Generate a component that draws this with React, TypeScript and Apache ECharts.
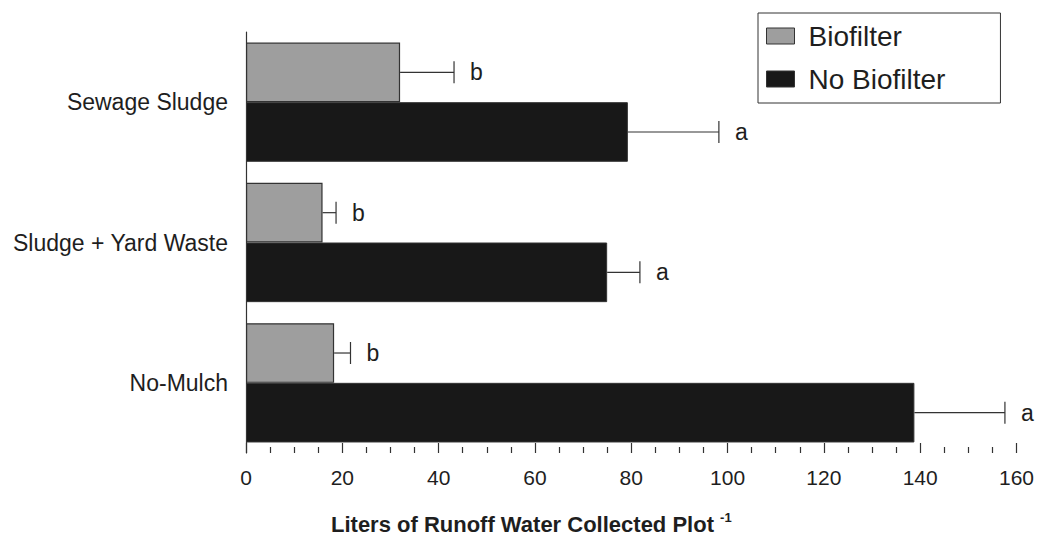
import React, { useEffect, useRef } from "react";
import * as echarts from "echarts";

const categories = ["Sewage Sludge", "Sludge + Yard Waste", "No-Mulch"];
const seriesNames = ["Biofilter", "No Biofilter"];
const biofilterValues = [32.0, 15.9, 18.3];
const biofilterErrors = [11.2, 2.8, 3.4];
const biofilterLetters = ["b", "b", "b"];
const noBiofilterValues = [79.3, 75.0, 138.8];
const noBiofilterErrors = [18.9, 6.8, 18.8];
const noBiofilterLetters = ["a", "a", "a"];
const xTicks = { min: 0, max: 160, interval: 20 };
const xAxisTitle = "Liters of Runoff Water Collected Plot ";
const xAxisTitleSup = "-1";

const FONT = "'Liberation Sans', Arial, Helvetica, sans-serif";
const TEXT = "#1e1e1e";
const CAT_GAP = 0.15;

export default function App() {
  const ref = useRef<HTMLDivElement>(null);
  useEffect(() => {
    if (!ref.current) return;
    const chart = echarts.init(ref.current, null, { renderer: "svg" });

    const errData: any[] = [];
    categories.forEach((_, i) => {
      errData.push([i, biofilterValues[i], biofilterValues[i] + biofilterErrors[i], 0, biofilterLetters[i]]);
      errData.push([i, noBiofilterValues[i], noBiofilterValues[i] + noBiofilterErrors[i], 1, noBiofilterLetters[i]]);
    });

    const renderErr = (params: any, api: any) => {
      const idx = api.value(0);
      const group = api.value(3);
      const letter = errData[params.dataIndex][4];
      const start = api.coord([api.value(1), idx]);
      const end = api.coord([api.value(2), idx]);
      const band = api.size([0, 1])[1];
      const barW = (band * (1 - CAT_GAP)) / 2;
      const y = start[1] + (group === 0 ? -barW / 2 : barW / 2);
      const cap = 11;
      return {
        type: "group",
        children: [
          { type: "line", shape: { x1: start[0], y1: y, x2: end[0], y2: y }, style: { stroke: "#333", lineWidth: 1.2 } },
          { type: "line", shape: { x1: end[0], y1: y - cap, x2: end[0], y2: y + cap }, style: { stroke: "#333", lineWidth: 1.2 } },
          {
            type: "text",
            x: end[0] + 16,
            y: y,
            style: { text: letter, fill: TEXT, fontSize: 23, fontFamily: FONT, align: "left", verticalAlign: "middle" },
          },
        ],
      };
    };

    chart.setOption({
      animation: false,
      backgroundColor: "#fff",
      textStyle: { fontFamily: FONT, color: TEXT },
      title: {
        left: 326,
        top: 506,
        text: `{t|${xAxisTitle}}{s|${xAxisTitleSup}}`,
        textStyle: {
          rich: {
            t: { fontSize: 22, fontWeight: "bold", fontFamily: FONT, color: TEXT, lineHeight: 26 },
            s: { fontSize: 13, fontWeight: "bold", fontFamily: FONT, color: TEXT, verticalAlign: "top", lineHeight: 26, padding: [0, 0, 12, 0] },
          },
        },
      },
      legend: {
        data: seriesNames,
        orient: "vertical",
        left: 758,
        top: 13,
        padding: [9, 55, 10, 8],
        itemGap: 15,
        itemWidth: 28,
        itemHeight: 16,
        icon: "rect",
        borderColor: "#333",
        borderWidth: 1,
        itemStyle: { borderColor: "#333", borderWidth: 1 },
        textStyle: { fontSize: 28, fontFamily: FONT, color: TEXT, padding: [0, 0, 0, 9] },
      },
      grid: { left: 246, right: 20, top: 32, bottom: 85, containLabel: false },
      xAxis: {
        type: "value",
        min: xTicks.min,
        max: xTicks.max,
        interval: xTicks.interval,
        axisLine: { show: false },
        axisTick: { show: true, inside: true, length: 10, lineStyle: { color: "#333", width: 1.2 } },
        minorTick: { show: true, splitNumber: 4, length: 6, lineStyle: { color: "#333", width: 1.2 } },
        splitLine: { show: false },
        axisLabel: { fontSize: 21, color: TEXT, fontFamily: FONT, margin: 14 },
      },
      yAxis: {
        type: "category",
        inverse: true,
        data: categories,
        axisLine: { show: true, lineStyle: { color: "#333", width: 1.2 } },
        axisTick: { show: false },
        axisLabel: { fontSize: 23, color: TEXT, fontFamily: FONT, margin: 18 },
      },
      series: [
        {
          name: seriesNames[0],
          type: "bar",
          data: biofilterValues,
          barGap: "0%",
          barCategoryGap: `${CAT_GAP * 100}%`,
          itemStyle: { color: "#9e9e9e", borderColor: "#333", borderWidth: 1.2 },
        },
        {
          name: seriesNames[1],
          type: "bar",
          data: noBiofilterValues,
          barGap: "0%",
          barCategoryGap: `${CAT_GAP * 100}%`,
          itemStyle: { color: "#181818", borderColor: "#333", borderWidth: 1 },
        },
        {
          type: "custom",
          renderItem: renderErr,
          data: errData.map((d) => d.slice(0, 4)),
          encode: { x: [1, 2], y: 0 },
          z: 5,
          silent: true,
        },
      ],
    });
    return () => chart.dispose();
  }, []);
  return <div ref={ref} style={{ position: "absolute", left: 0, top: 0, width: 1037, height: 538, background: "#fff" }} />;
}
